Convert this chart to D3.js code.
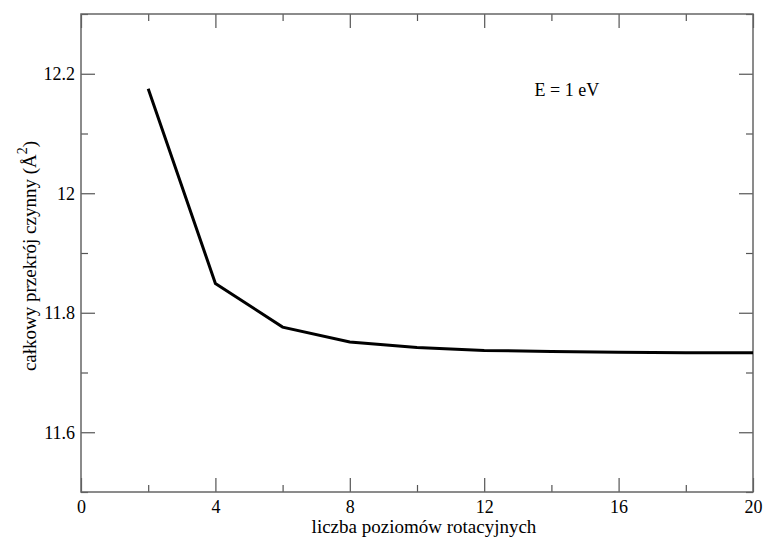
<!DOCTYPE html>
<html>
<head>
<meta charset="utf-8">
<title>Przekrój czynny</title>
<script src="https://d3js.org/d3.v7.min.js"></script>
<style>
  body { margin: 0; background: #fff; }
  svg, svg text { font-family: "Liberation Serif", "Times New Roman", "DejaVu Serif", serif !important; }
  .tick line { stroke: #555; stroke-width: 1.2px; }
  .domain { display: none; }
</style>
</head>
<body>
<svg width="764" height="541"></svg>
<script>
// data
const levels = [2, 4, 6, 8, 10, 12, 14, 16, 18, 20];
const crossSection = [12.175, 11.849, 11.776, 11.751, 11.742, 11.737, 11.735, 11.734, 11.733, 11.733];
const xMajor = [0, 4, 8, 12, 16, 20];
const xMinor = [2, 6, 10, 14, 18];
const yMajor = [11.6, 11.8, 12, 12.2];
const yMinor = [11.5, 11.7, 11.9, 12.1, 12.3];

const serif = '"Liberation Serif", "Times New Roman", serif';
const svg = d3.select("svg");
const margin = { top: 14, right: 11, bottom: 49, left: 81 };
const width = +svg.attr("width") - margin.left - margin.right;
const height = +svg.attr("height") - margin.top - margin.bottom;

const x = d3.scaleLinear().domain([0, 20]).range([0, width]);
const y = d3.scaleLinear().domain([11.5, 12.3]).range([height, 0]);

const g = svg.append("g").attr("transform", `translate(${margin.left},${margin.top})`);

// ticks point inward on all four sides
g.append("g").attr("transform", `translate(0,${height})`)
  .call(d3.axisBottom(x).tickValues(xMajor).tickSize(-14).tickPadding(8).tickFormat(d3.format("d")));
g.append("g").attr("transform", `translate(0,${height})`)
  .call(d3.axisBottom(x).tickValues(xMinor).tickSize(-7).tickFormat(""));
g.append("g")
  .call(d3.axisTop(x).tickValues(xMajor).tickSize(-14).tickFormat(""));
g.append("g")
  .call(d3.axisTop(x).tickValues(xMinor).tickSize(-7).tickFormat(""));

g.append("g")
  .call(d3.axisLeft(y).tickValues(yMajor).tickSize(-14).tickPadding(6).tickFormat(d => String(+d.toFixed(1))));
g.append("g")
  .call(d3.axisLeft(y).tickValues(yMinor).tickSize(-7).tickFormat(""));
g.append("g").attr("transform", `translate(${width},0)`)
  .call(d3.axisRight(y).tickValues(yMajor).tickSize(-14).tickFormat(""));
g.append("g").attr("transform", `translate(${width},0)`)
  .call(d3.axisRight(y).tickValues(yMinor).tickSize(-7).tickFormat(""));

// d3 axes set a sans-serif font on the group; replace it
g.selectAll("g").attr("font-family", serif);
g.selectAll(".tick text")
  .attr("fill", "#000")
  .style("font-family", serif)
  .style("font-size", "18px");

// frame
g.append("rect")
  .attr("width", width).attr("height", height)
  .attr("fill", "none").attr("stroke", "#666").attr("stroke-width", 1.5);

const line = d3.line()
  .x((d, i) => x(levels[i]))
  .y(d => y(d));

g.append("path")
  .datum(crossSection)
  .attr("d", line)
  .attr("fill", "none")
  .attr("stroke", "#000")
  .attr("stroke-width", 3);

g.append("text")
  .attr("x", x(13.5)).attr("y", y(12.163))
  .style("font-family", serif)
  .style("font-size", "18px")
  .text("E = 1 eV");

// axis titles
svg.append("text")
  .attr("x", 424).attr("y", 533)
  .attr("text-anchor", "middle")
  .style("font-family", serif)
  .style("font-size", "19px")
  .text("liczba poziomów rotacyjnych");

const yTitle = svg.append("text")
  .attr("transform", "translate(36,256) rotate(-90)")
  .attr("text-anchor", "middle")
  .style("font-family", serif)
  .style("font-size", "19px");
yTitle.append("tspan").text("całkowy przekrój czynny (Å");
yTitle.append("tspan").attr("dy", -9).style("font-size", "14px").text("2");
yTitle.append("tspan").attr("dy", 9).text(")");
</script>
</body>
</html>
